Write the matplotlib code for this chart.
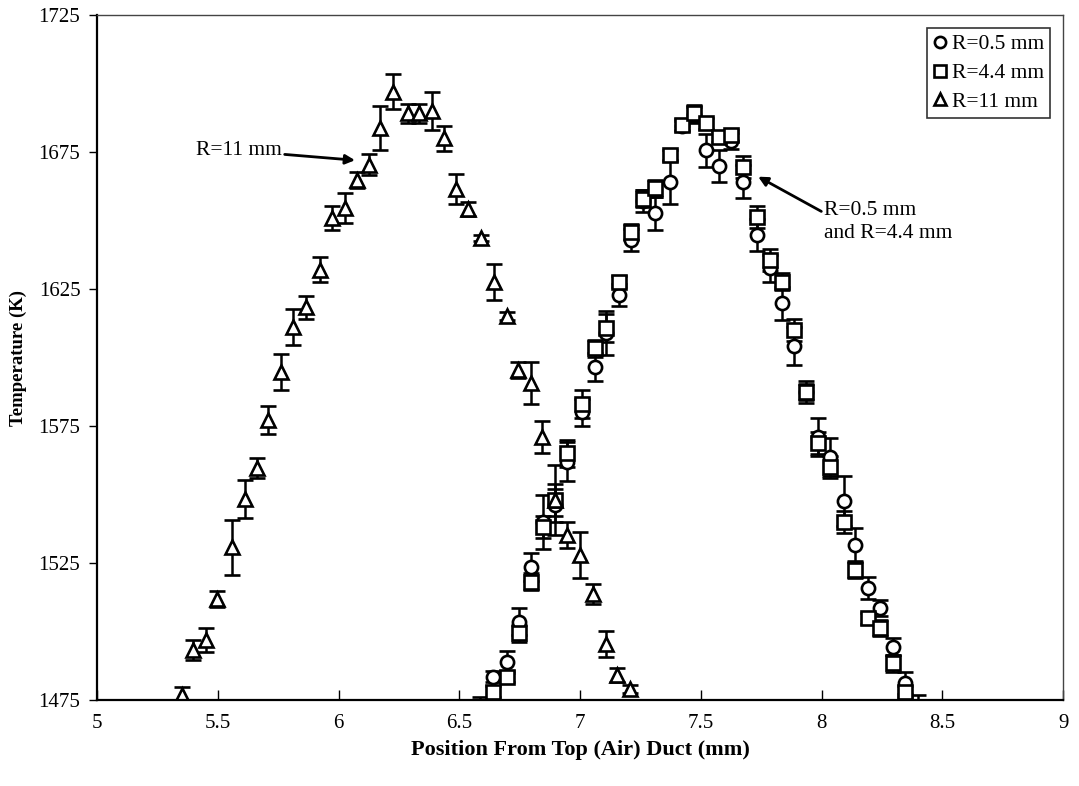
import matplotlib
matplotlib.use("Agg")
from matplotlib import pyplot as plt

plt.rcParams['font.family'] = ['Liberation Serif', 'DejaVu Serif']

# R = 11 mm (triangles)
x_r11 = [5.352, 5.397, 5.451, 5.497, 5.559, 5.613, 5.663, 5.708, 5.762, 5.812,
         5.865, 5.923, 5.973, 6.027, 6.077, 6.126, 6.172, 6.226, 6.288, 6.333,
         6.387, 6.437, 6.487, 6.536, 6.590, 6.644, 6.698, 6.743, 6.797, 6.843,
         6.897, 6.946, 7.000, 7.054, 7.108, 7.153, 7.207]
t_r11 = [1476.8, 1493.2, 1496.9, 1511.9, 1530.8, 1548.4, 1559.7, 1577.2, 1594.7, 1611.1,
         1618.4, 1632.1, 1651.0, 1654.6, 1664.8, 1670.3, 1683.8, 1697.0, 1689.2, 1689.2,
         1689.9, 1680.0, 1661.5, 1654.2, 1643.6, 1627.6, 1615.1, 1595.4, 1590.7, 1571.0,
         1548.0, 1535.2, 1528.0, 1513.7, 1495.5, 1484.1, 1479.0]
e_r11 = [2.8, 3.6, 4.4, 3.0, 10.0, 6.9, 3.5, 5.0, 6.4, 6.5,
         4.2, 4.6, 4.4, 5.5, 3.0, 3.8, 8.0, 6.3, 3.5, 3.5,
         7.0, 4.6, 5.6, 2.5, 1.0, 6.7, 1.5, 3.0, 7.6, 6.0,
         12.9, 4.9, 8.5, 3.8, 4.7, 2.7, 1.5]

# R = 0.5 mm (circles)
x_r05 = [6.586, 6.641, 6.696, 6.747, 6.797, 6.845, 6.897, 6.946, 7.007, 7.062,
         7.108, 7.159, 7.209, 7.259, 7.311, 7.370, 7.421, 7.473, 7.520, 7.573,
         7.624, 7.673, 7.734, 7.784, 7.835, 7.887, 7.936, 7.983, 8.035, 8.093,
         8.139, 8.191, 8.242, 8.294, 8.346]
t_r05 = [1470.0, 1483.5, 1489.0, 1503.6, 1523.6, 1540.0, 1546.0, 1562.0, 1580.0, 1596.6,
         1609.0, 1622.8, 1643.0, 1657.0, 1652.6, 1664.2, 1684.5, 1688.5, 1675.7, 1669.9,
         1679.0, 1664.2, 1644.7, 1632.5, 1619.8, 1604.3, 1587.5, 1571.0, 1563.8, 1547.6,
         1531.6, 1515.8, 1508.5, 1494.5, 1481.1]
e_r05 = [6, 2, 4, 5, 5, 10, 6, 7, 5, 5,
         8, 4, 4, 4, 6, 8, 2, 3, 6, 6,
         3, 6, 6, 5, 6, 7, 4, 7, 7, 9,
         6, 4, 3, 3, 4]

# R = 4.4 mm (squares)
x_r44 = [6.641, 6.696, 6.747, 6.797, 6.845, 6.897, 6.946, 7.007, 7.062, 7.108,
         7.159, 7.209, 7.259, 7.311, 7.370, 7.421, 7.473, 7.520, 7.573, 7.624,
         7.673, 7.734, 7.784, 7.835, 7.887, 7.936, 7.983, 8.035, 8.093, 8.139,
         8.191, 8.242, 8.294, 8.346, 8.398]
t_r44 = [1478.0, 1483.5, 1499.3, 1518.2, 1538.0, 1548.0, 1565.0, 1583.0, 1603.3, 1610.7,
         1627.6, 1645.9, 1658.0, 1661.7, 1673.9, 1684.9, 1689.1, 1685.5, 1680.6, 1681.2,
         1669.6, 1651.4, 1635.6, 1627.7, 1610.0, 1587.5, 1568.7, 1559.9, 1540.0, 1522.4,
         1504.8, 1501.2, 1488.4, 1478.0, 1472.0]
e_r44 = [2, 2, 3, 3, 4, 6, 5, 5, 3, 5,
         2, 3, 3, 3, 2, 2, 3, 2, 2, 2,
         4, 4, 4, 3, 4, 3, 4, 4, 4, 3,
         2, 3, 3, 2, 5]

fig = plt.figure(figsize=(10.79, 7.86), dpi=100)
ax = fig.add_axes([0.0899, 0.1094, 0.8955, 0.8715])

style = dict(color='black', mfc='white', mec='black', mew=1.9, ms=9.5,
             ls='none', ecolor='black', elinewidth=1.8, capsize=6, capthick=1.9)
c05 = ax.errorbar(x_r05, t_r05, yerr=e_r05, marker='o', label='R=0.5 mm', **style)
c44 = ax.errorbar(x_r44, t_r44, yerr=e_r44, marker='s', label='R=4.4 mm', **style)
c11 = ax.errorbar(x_r11, t_r11, yerr=e_r11, marker='^', label='R=11 mm', **style)

ax.set_xlim(5, 9)
ax.set_ylim(1475, 1725)
ax.set_xticks([5, 5.5, 6, 6.5, 7, 7.5, 8, 8.5, 9])
ax.set_xticklabels(['5', '5.5', '6', '6.5', '7', '7.5', '8', '8.5', '9'])
ax.set_yticks([1475, 1525, 1575, 1625, 1675, 1725])
ax.tick_params(axis='x', direction='in', length=7, width=1, labelsize=15, pad=10)
ax.tick_params(axis='y', direction='out', length=6, width=1, labelsize=15, pad=6)
for side in ['left', 'bottom']:
    ax.spines[side].set_linewidth(1.6)
for side in ['top', 'right']:
    ax.spines[side].set_linewidth(1.0)
    ax.spines[side].set_color('#444444')

ax.set_xlabel('Position From Top (Air) Duct (mm)', fontsize=16, fontweight='bold', labelpad=5)
ax.set_ylabel('Temperature (K)', fontsize=13.5, fontweight='bold', labelpad=8)

ax.annotate('R=11 mm', xy=(6.068, 1672), xytext=(5.41, 1675.5), fontsize=15.5,
            va='center', ha='left',
            arrowprops=dict(arrowstyle='-|>', color='black', lw=2, mutation_scale=14,
                            shrinkA=0, shrinkB=0))
ax.annotate('R=0.5 mm\nand R=4.4 mm', xy=(7.737, 1666), xytext=(8.01, 1649.5),
            fontsize=15.5, va='center', ha='left', linespacing=1.25,
            arrowprops=dict(arrowstyle='-|>', color='black', lw=2, mutation_scale=14,
                            shrinkA=0, shrinkB=0, relpos=(-0.02, 0.75)))

leg = ax.legend([c05.lines[0], c44.lines[0], c11.lines[0]],
                ['R=0.5 mm', 'R=4.4 mm', 'R=11 mm'],
                loc='upper right', fontsize=15.5, frameon=True, fancybox=False,
                handlelength=0.6, handletextpad=0.25, borderpad=0.3, labelspacing=0.4,
                borderaxespad=0.6, markerscale=0.85)
leg.get_frame().set_edgecolor('black')
leg.get_frame().set_linewidth(1.2)

fig.savefig('out.png', dpi=100)
